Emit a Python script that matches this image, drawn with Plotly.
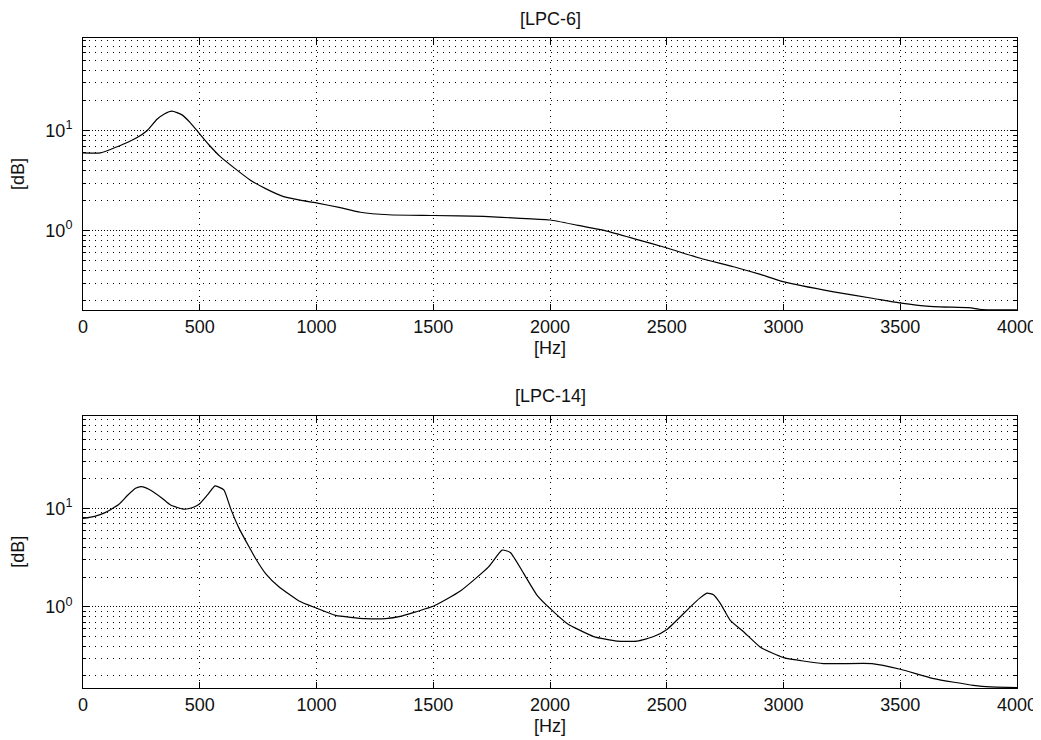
import plotly.graph_objects as go

# ---- data ----
freq_lpc6 = [0, 75, 174, 230, 274, 317, 350, 381, 424, 460, 498, 540, 588, 650, 717,
             780, 859, 930, 999, 1102, 1188, 1309, 1500, 1716, 1873, 2001, 2120, 2244,
             2370, 2494, 2644, 2786, 2901, 2998, 3215, 3386, 3496, 3643, 3793, 3850, 4000]
mag_lpc6 = [6.0, 6.0, 7.36, 8.5, 10.0, 13.0, 14.8, 15.7, 14.4, 12.0, 9.4, 7.2, 5.5, 4.2, 3.2,
            2.65, 2.19, 2.02, 1.9, 1.70, 1.53, 1.445, 1.42, 1.39, 1.33, 1.28, 1.13, 0.99,
            0.82, 0.68, 0.53, 0.436, 0.366, 0.31, 0.245, 0.21, 0.19, 0.174, 0.17, 0.163, 0.162]

freq_lpc14 = [0, 50, 97, 154, 190, 225, 251, 282, 340, 375, 433, 470, 497, 532, 565, 580,
              604, 632, 668, 711, 739, 782, 839, 925, 996, 1082, 1210, 1296, 1359, 1425,
              1502, 1616, 1737, 1795, 1830, 1887, 1944, 2001, 2073, 2187, 2287, 2373, 2444,
              2501, 2601, 2640, 2672, 2700, 2730, 2772, 2829, 2901, 3001, 3172, 3379, 3500,
              3643, 3814, 3886, 4000]
mag_lpc14 = [7.9, 8.3, 9.1, 11.0, 13.5, 16.0, 16.6, 15.6, 12.6, 10.8, 9.8, 10.2, 11.0, 13.6,
             16.9, 16.5, 15.3, 10.0, 6.3, 4.07, 3.1, 2.18, 1.6, 1.15, 0.98, 0.82, 0.76, 0.76,
             0.80, 0.89, 1.02, 1.45, 2.55, 3.77, 3.57, 2.19, 1.32, 0.96, 0.68, 0.50, 0.45,
             0.45, 0.50, 0.59, 1.0, 1.22, 1.38, 1.33, 1.08, 0.73, 0.56, 0.39, 0.306, 0.266,
             0.266, 0.233, 0.187, 0.16, 0.154, 0.152]

titles = ["[LPC-6]", "[LPC-14]"]
x_ticks = [0, 500, 1000, 1500, 2000, 2500, 3000, 3500, 4000]
y_major = [1, 10]
y_major_text = ["10<sup>0</sup>", "10<sup>1</sup>"]
y_minor = [0.2, 0.3, 0.4, 0.5, 0.6, 0.7, 0.8, 0.9,
           2, 3, 4, 5, 6, 7, 8, 9,
           20, 30, 40, 50, 60, 70, 80]

FONT = "Liberation Sans, Arial, Helvetica, sans-serif"
TXT = "#111111"
FS = 18

fig = go.Figure()
fig.add_trace(go.Scatter(x=freq_lpc6, y=mag_lpc6, mode="lines",
                         line=dict(color="black", width=1.2, shape="spline", smoothing=0.5),
                         xaxis="x", yaxis="y", showlegend=False))
fig.add_trace(go.Scatter(x=freq_lpc14, y=mag_lpc14, mode="lines",
                         line=dict(color="black", width=1.2, shape="spline", smoothing=0.5),
                         xaxis="x2", yaxis="y2", showlegend=False))


def xax(domain_anchor):
    return dict(
        range=[0, 4000], tickvals=x_ticks, ticks="inside", ticklen=6, tickcolor="black",
        mirror="ticks", showline=True, linecolor="black", linewidth=1,
        showgrid=True, gridcolor="black", gridwidth=1, griddash="1px,5px",
        zeroline=False, anchor=domain_anchor, automargin=False,
        tickfont=dict(family=FONT, size=FS, color=TXT),
        title=dict(text="[Hz]", font=dict(family=FONT, size=FS, color=TXT), standoff=5),
    )


def yax(rng, dom, anchor):
    return dict(
        type="log", range=rng, domain=dom, anchor=anchor, automargin=False,
        tickvals=y_major, ticktext=y_major_text,
        ticks="inside", ticklen=6, tickcolor="black",
        mirror="ticks", showline=True, linecolor="black", linewidth=1,
        showgrid=True, gridcolor="black", gridwidth=1, griddash="1px,2px",
        zeroline=False,
        minor=dict(tickvals=y_minor, ticks="inside", ticklen=3, tickcolor="black",
                   showgrid=True, gridcolor="black", gridwidth=1, griddash="1px,5px"),
        tickfont=dict(family=FONT, size=FS, color=TXT),
        ticklabelstandoff=6,
        title=dict(text="[dB]", font=dict(family=FONT, size=FS, color=TXT), standoff=16),
    )


# the page body adds an 8px offset, so margins are measured from (8, 8)
fig.update_layout(
    width=1041, height=740,
    margin=dict(l=75, r=32, t=30, b=60, autoexpand=False),
    paper_bgcolor="white", plot_bgcolor="white",
    font=dict(family=FONT, size=FS, color=TXT),
    xaxis=xax("y"),
    yaxis=yax([-0.793, 1.927], [0.5815, 1.0], "x"),
    xaxis2=xax("y2"),
    yaxis2=yax([-0.823, 1.94], [0.0, 0.4189], "x2"),
    annotations=[
        dict(text=titles[0], x=0.5, y=1.0, xref="paper", yref="paper",
             xanchor="center", yanchor="bottom", yshift=7, showarrow=False,
             font=dict(family=FONT, size=FS, color=TXT)),
        dict(text=titles[1], x=0.5, y=0.4189, xref="paper", yref="paper",
             xanchor="center", yanchor="bottom", yshift=8, showarrow=False,
             font=dict(family=FONT, size=FS, color=TXT)),
    ],
)

fig.write_html("out.html")
